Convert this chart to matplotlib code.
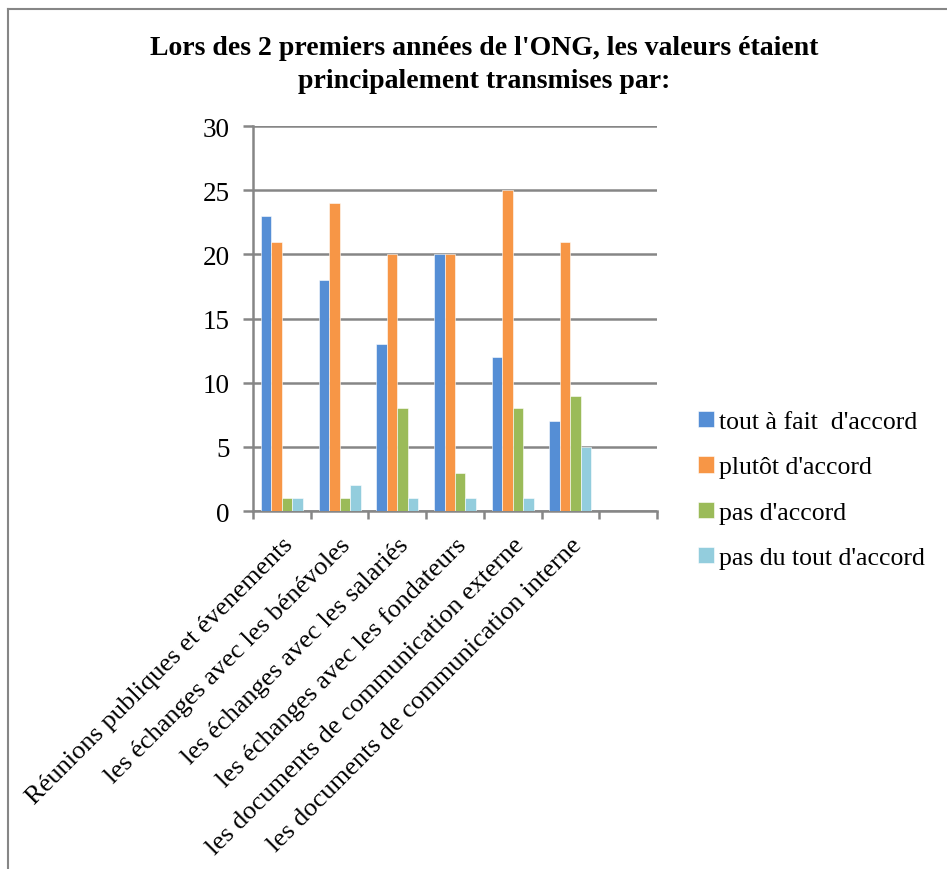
import matplotlib
matplotlib.use("Agg")
import matplotlib.pyplot as plt
import numpy as np
from matplotlib.lines import Line2D
from matplotlib.transforms import ScaledTranslation

categories = [
    "Réunions publiques et évenements",
    "les échanges avec les bénévoles",
    "les échanges avec les salariés",
    "les échanges avec les fondateurs",
    "les documents de communication externe",
    "les documents de communication interne",
]
series_names = ["tout à fait  d'accord", "plutôt d'accord", "pas d'accord", "pas du tout d'accord"]
tout_a_fait = [23, 18, 13, 20, 12, 7]
plutot = [21, 24, 20, 20, 25, 21]
pas = [1, 1, 8, 3, 8, 9]
pas_du_tout = [1, 2, 1, 1, 1, 5]
yticks = [0, 5, 10, 15, 20, 25, 30]
title = "Lors des 2 premiers années de l'ONG, les valeurs étaient\nprincipalement transmises par:"

colors = ["#558ED5", "#F79646", "#9BBB59", "#93CDDD"]
grid_col = "#868686"

plt.rcParams["font.family"] = ["Liberation Serif", "DejaVu Serif"]

W, H = 947, 870
fig = plt.figure(figsize=(W / 100, H / 100), dpi=100)
ax = fig.add_axes([253 / W, 1 - 512 / H, (657 - 253) / W, (512 - 127) / H])

series = [tout_a_fait, plutot, pas, pas_du_tout]
n = len(series)
bw = 1 / (n + 1.5)
x = np.arange(len(categories))
for i, (vals, name, c) in enumerate(zip(series, series_names, colors)):
    ax.bar(x + (i - (n - 1) / 2) * bw, vals, width=bw, color=c, label=name,
           edgecolor="white", linewidth=0.4, zorder=3)

ax.set_xlim(-0.5, len(categories) + 0.5)
ax.set_ylim(0, 30)
ax.set_yticks(yticks)
ax.set_yticklabels([str(v) for v in yticks], fontsize=19.5)
ax.yaxis.grid(True, color=grid_col, linewidth=1.8, zorder=0)
ax.set_axisbelow(True)

ax.set_xticks(np.arange(-0.5, len(categories) + 1, 1))
ax.set_xticklabels([])
ax.set_xticks(x, minor=True)
labels = ax.set_xticklabels(categories, minor=True, rotation=45, ha="right", va="top",
                            rotation_mode="anchor", fontsize=19)
off = ScaledTranslation(-7 / 100, 0, fig.dpi_scale_trans)
for lab in labels:
    lab.set_transform(lab.get_transform() + off)
ax.tick_params(axis="x", which="minor", length=0, pad=16)
ax.tick_params(axis="x", which="major", length=6, width=1.8, color=grid_col)
ax.tick_params(axis="y", length=7, width=1.8, color=grid_col, pad=10)

for s in ["top", "right"]:
    ax.spines[s].set_visible(False)
for s in ["left", "bottom"]:
    ax.spines[s].set_color(grid_col)
    ax.spines[s].set_linewidth(1.8)

fig.text(484 / W, 1 - 65 / H, title, ha="center", va="center", fontsize=20,
         fontweight="bold", linespacing=1.45)

leg = fig.legend(loc="center left", bbox_to_anchor=(675 / W, 1 - 491 / H),
                 frameon=False, fontsize=18.5, handlelength=0.6, handleheight=0.6,
                 handletextpad=0.2, labelspacing=0.9)

# outer chart frame (left & top visible)
fig.add_artist(Line2D([8 / W, 1], [1 - 10 / H, 1 - 10 / H], color=grid_col, linewidth=1.5,
                      transform=fig.transFigure))
fig.add_artist(Line2D([8 / W, 8 / W], [0, 1 - 10 / H], color=grid_col, linewidth=1.5,
                      transform=fig.transFigure))

fig.savefig("out.png", dpi=100)
